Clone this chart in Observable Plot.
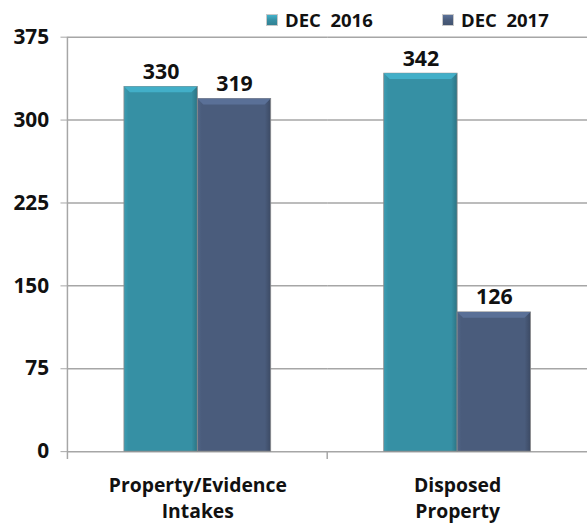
<!DOCTYPE html>
<html>
<head>
<meta charset="utf-8">
<script src="https://cdn.jsdelivr.net/npm/d3@7"></script>
<script src="https://cdn.jsdelivr.net/npm/@observablehq/plot@0.6"></script>
<style>
  html, body { margin: 0; padding: 0; background: #fff; overflow: hidden; }
  #wrap { position: relative; width: 587px; height: 523px; overflow: hidden; font-family: 'Open Sans', sans-serif; }
  #wrap svg { position: absolute; left: 0; top: 0; }
  .leg { position: absolute; top: 7px; display: flex; align-items: center; font-weight: bold; font-size: 18.5px; color: #111; white-space: pre; }
  .sw { width: 12px; height: 12px; margin-right: 7px; box-sizing: border-box; border: 1px solid #c8c8c8; }
</style>
</head>
<body>
<div id="wrap"></div>
<script>
const categories = ["Property/Evidence\nIntakes", "Disposed\nProperty"];
const series = ["DEC  2016", "DEC  2017"];
const values2016 = [330, 342];
const values2017 = [319, 126];
const yTicks = [0, 75, 150, 225, 300, 375];
const colors = ["#3690a4", "#4a5c7c"];

const data = categories.flatMap((c, i) => [
  {category: c, series: series[0], value: values2016[i]},
  {category: c, series: series[1], value: values2017[i]}
]);

const plot = Plot.plot({
  width: 592,
  height: 523,
  marginLeft: 68,
  marginRight: 0,
  marginTop: 37,
  marginBottom: 68,
  style: {fontFamily: "'Open Sans', sans-serif", background: "transparent", overflow: "visible"},
  fx: {domain: categories, padding: 0, label: null, axis: null},
  x: {domain: series, paddingInner: 0, paddingOuter: 0.747, axis: null},
  y: {domain: [0, 375], label: null},
  marks: [
    Plot.ruleY(yTicks, {stroke: "#a6a6a6", strokeWidth: 1.5}),
    Plot.axisY({ticks: yTicks, tickSize: 7, tickPadding: 12, stroke: "#a6a6a6", fontSize: 21, fontWeight: "bold", fill: "#111", label: null}),
    Plot.axisFx({anchor: "bottom", tickSize: 0, tickPadding: 22, fontSize: 19.5, fontWeight: "bold", fill: "#111", lineHeight: 1.36, label: null}),
    Plot.barY(data.filter(d => d.series === series[0]), {fx: "category", x: "series", y: "value", fill: "url(#g16)", stroke: "#8a8a8a", strokeWidth: 0.8}),
    Plot.barY(data.filter(d => d.series === series[1]), {fx: "category", x: "series", y: "value", fill: "url(#g17)", stroke: "#8a8a8a", strokeWidth: 0.8}),
    Plot.text(data, {fx: "category", x: "series", y: "value", text: d => String(d.value), dy: -15, fontSize: 21.5, fontWeight: "bold", fill: "#111"})
  ]
});

// gradients for bevelled bars
const svg = d3.select(plot);
const defs = svg.insert("defs", ":first-child");
function grad(id, c) {
  const base = d3.color(c);
  const g = defs.append("linearGradient").attr("id", id).attr("x1", 0).attr("x2", 1).attr("y1", 0).attr("y2", 0);
  g.append("stop").attr("offset", "0%").attr("stop-color", base.brighter(0.25));
  g.append("stop").attr("offset", "6%").attr("stop-color", base.formatHex());
  g.append("stop").attr("offset", "92%").attr("stop-color", base.formatHex());
  g.append("stop").attr("offset", "100%").attr("stop-color", base.darker(0.6));
}
grad("g16", colors[0]);
grad("g17", colors[1]);

// axis line and category separator ticks from Plot's scales
const fx = plot.scale("fx");
const y = plot.scale("y");
const y0 = y.apply(0), yTop = y.apply(375);
const xLeft = fx.apply(categories[0]);
svg.append("line").attr("x1", xLeft).attr("x2", xLeft).attr("y1", yTop).attr("y2", y0 + 8)
  .attr("stroke", "#a6a6a6").attr("stroke-width", 1.5);
categories.slice(1).forEach(c => {
  const xs = fx.apply(c);
  svg.append("line").attr("x1", xs).attr("x2", xs).attr("y1", y0).attr("y2", y0 + 8)
    .attr("stroke", "#a6a6a6").attr("stroke-width", 1.5);
});
// top bevel highlight on each bar, using the bar rects Plot drew
svg.selectAll("rect").each(function() {
  const r = d3.select(this);
  const fill = r.attr("fill") || (this.parentNode && this.parentNode.getAttribute("fill"));
  if (!fill || !fill.startsWith("url")) return;
  const x = +r.attr("x"), yy = +r.attr("y"), w = +r.attr("width");
  const t = 6;
  const base = d3.color(fill.includes("g16") ? colors[0] : colors[1]);
  d3.select(this.parentNode).append("path")
    .attr("d", `M${x},${yy}H${x + w}L${x + w - t},${yy + t}H${x + t}Z`)
    .attr("fill", base.brighter(0.55)).attr("stroke", "none");
});

const wrap = document.getElementById("wrap");
wrap.appendChild(plot);

// legend
const legPos = [266, 442];
series.forEach((s, i) => {
  const d = document.createElement("div");
  d.className = "leg";
  d.style.left = legPos[i] + "px";
  const sw = document.createElement("span");
  sw.className = "sw";
  sw.style.background = `linear-gradient(to bottom, ${d3.color(colors[i]).brighter(0.6)}, ${colors[i]} 50%, ${d3.color(colors[i]).darker(0.3)})`;
  d.appendChild(sw);
  d.appendChild(document.createTextNode(s));
  wrap.appendChild(d);
});
</script>
</body>
</html>
